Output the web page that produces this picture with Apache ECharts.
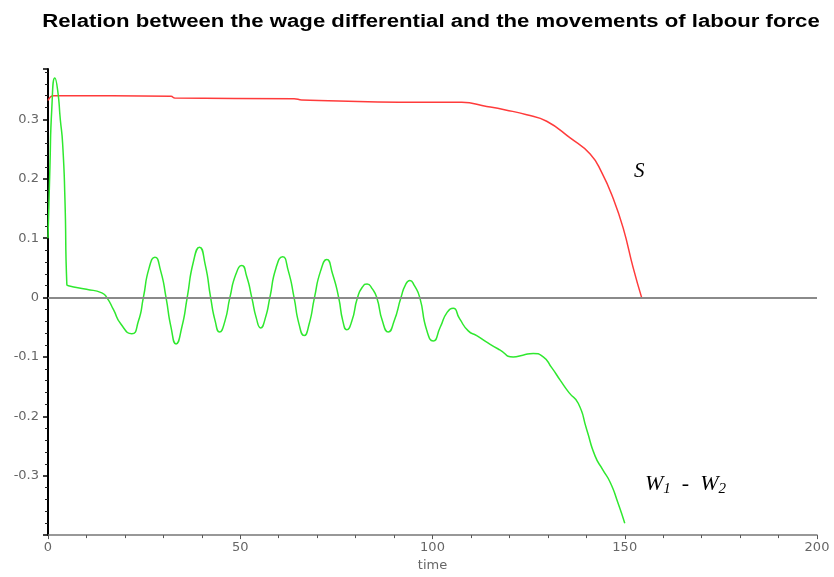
<!DOCTYPE html>
<html>
<head>
<meta charset="utf-8">
<script src="https://cdn.jsdelivr.net/npm/echarts@6/dist/echarts.min.js"></script>
<style>
  html, body { margin: 0; padding: 0; background: #fff; }
  #chart { width: 834px; height: 577px; }
</style>
</head>
<body>
<div id="chart"></div>
<script>
  // time values and S curve
  const sTime = [0, 1.5, 32, 33, 64, 66, 96.7, 107.6, 114.1, 119, 124.5, 129.7, 135.8, 141, 144, 147, 149.6, 152.2, 154.4];
  const sVals = [0.332, 0.34, 0.339, 0.336, 0.335, 0.333, 0.329, 0.329, 0.322, 0.316, 0.308, 0.297, 0.269, 0.242, 0.211, 0.167, 0.117, 0.05, 0];

  // W1 - W2 curve
  const wTime = [0, 0.5, 1, 1.8, 2.5, 3.2, 3.8, 4.4, 4.9, 5.3, 10, 14, 15.3, 17, 19, 21.8, 23.5, 24.8, 26.3, 27.8,
    29.3, 30.7, 32, 33.3, 34.8, 36.2, 37.8, 39.4, 40.9, 42.3, 43.5, 44.6, 46, 47.3, 48.9, 50.4, 51.7, 53, 54.2, 55.3,
    56.5, 57.7, 59.3, 61, 62.5, 64, 65.3, 66.6, 67.9, 69.3, 70.9, 72.5, 74, 75.6, 76.7, 77.7, 79, 80.5, 81.8, 83,
    84.3, 85.5, 87, 88.5, 90, 91.8, 93, 94.1, 95.3, 96.7, 98.5, 100.2, 102, 103.8, 105.4, 107, 109.3, 111.5, 114.1, 117.5,
    121, 123.5, 126.2, 128.8, 131, 133.2, 135.5, 137.9, 140.1, 142.3, 144.3, 146.2, 148.2, 150];
  const wVals = [0.10, 0.22, 0.32, 0.37, 0.35, 0.30, 0.26, 0.167, 0.022, 0.02, 0.014, 0.008, 0, -0.02, -0.045, -0.061, -0.04, 0, 0.05, 0.068,
    0.045, 0, -0.05, -0.078, -0.05, 0, 0.06, 0.085, 0.055, 0, -0.04, -0.058, -0.04, 0, 0.04, 0.054, 0.035, 0, -0.035, -0.051,
    -0.035, 0, 0.05, 0.069, 0.045, 0, -0.045, -0.064, -0.045, 0, 0.045, 0.064, 0.04, 0, -0.04, -0.054, -0.04, 0, 0.018, 0.023,
    0.015, 0, -0.04, -0.058, -0.04, 0, 0.022, 0.029, 0.02, 0, -0.055, -0.073, -0.05, -0.025, -0.018, -0.035, -0.056, -0.064, -0.075, -0.088,
    -0.1, -0.097, -0.094, -0.1, -0.118, -0.139, -0.16, -0.178, -0.222, -0.267, -0.29, -0.311, -0.345, -0.38];

  const xTicks = { min: 0, max: 200, interval: 50 };
  const yTicks = { min: -0.4, max: 0.385, interval: 0.1 };

  const chart = echarts.init(document.getElementById('chart'));

  const labelStyle = {
    color: '#666',
    fontFamily: 'DejaVu Sans, sans-serif',
    fontSize: 13
  };

  chart.setOption({
    animation: false,
    backgroundColor: '#fff',
    grid: {
      left: 48,
      right: 17,
      top: 69,
      bottom: 37
    },
    xAxis: {
      type: 'value',
      min: xTicks.min,
      max: xTicks.max,
      interval: xTicks.interval,
      name: 'time',
      nameLocation: 'middle',
      nameGap: 22,
      nameTextStyle: labelStyle,
      axisLine: { onZero: false, lineStyle: { color: '#777', width: 1.5 } },
      axisTick: { show: true, length: 4, lineStyle: { color: '#555' } },
      minorTick: { show: true, splitNumber: 5, length: 3, lineStyle: { color: '#555' } },
      axisLabel: Object.assign({ margin: 6 }, labelStyle),
      splitLine: { show: false }
    },
    yAxis: {
      type: 'value',
      min: yTicks.min,
      max: yTicks.max,
      interval: yTicks.interval,
      axisLine: { onZero: false, lineStyle: { color: '#000', width: 2 } },
      axisTick: { show: true, length: 5, lineStyle: { color: '#000', width: 1.5 } },
      minorTick: { show: true, splitNumber: 5, length: 3, lineStyle: { color: '#222' } },
      axisLabel: Object.assign({
        margin: 9,
        showMinLabel: false,
        showMaxLabel: false
      }, labelStyle),
      splitLine: { show: false }
    },
    series: [
      {
        name: 'S',
        type: 'line',
        data: sTime.map((t, i) => [t, sVals[i]]),
        showSymbol: false,
        smooth: 0.5,
        lineStyle: { color: '#ff3b3b', width: 1.5 },
        z: 3,
        markLine: {
          silent: true,
          symbol: 'none',
          label: { show: false },
          lineStyle: { color: '#8a8a8a', width: 2, type: 'solid' },
          data: [{ yAxis: 0 }]
        }
      },
      {
        name: 'W1 - W2',
        type: 'line',
        data: wTime.map((t, i) => [t, wVals[i]]),
        showSymbol: false,
        smooth: 0.6,
        lineStyle: { color: '#2fe82f', width: 1.5 },
        z: 4
      }
    ],
    graphic: [
      {
        // title is stretched a little wider than the font draws it
        type: 'text',
        x: 431,
        y: 22,
        scaleX: 1.23,
        style: {
          text: 'Relation between the wage differential and the movements of labour force',
          font: 'bold 18px "Liberation Sans", Arial, sans-serif',
          fill: '#000',
          align: 'center',
          verticalAlign: 'middle'
        }
      },
      {
        type: 'text',
        left: 634,
        top: 161,
        style: {
          text: 'S',
          font: 'italic 21px "Liberation Serif", serif',
          fill: '#000'
        }
      },
      {
        type: 'text',
        left: 645,
        top: 473,
        style: {
          text: '{w|W}{s|1}{w|  -  W}{s|2}',
          fill: '#000',
          rich: {
            w: { fontFamily: 'Liberation Serif', fontStyle: 'italic', fontSize: 22, lineHeight: 25 },
            s: { fontFamily: 'Liberation Serif', fontStyle: 'italic', fontSize: 15, lineHeight: 10, verticalAlign: 'bottom' }
          }
        }
      }
    ]
  });
</script>
</body>
</html>
